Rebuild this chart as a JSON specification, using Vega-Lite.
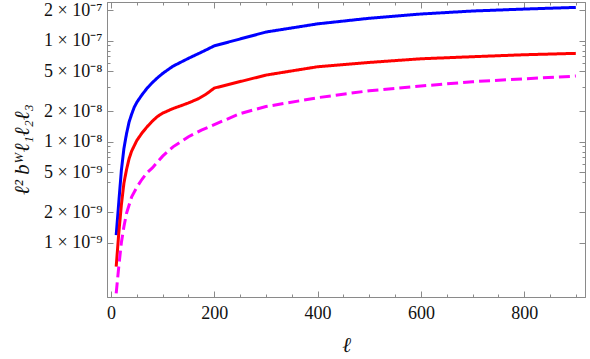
{
  "$schema": "https://vega.github.io/schema/vega-lite/v6.json",
  "width": 478,
  "height": 295,
  "autosize": {"type": "none"},
  "padding": {"left": 107, "top": 2, "right": 5, "bottom": 62},
  "background": "white",
  "config": {
    "font": "Liberation Serif",
    "view": {"stroke": "#8a8a8a", "strokeWidth": 1},
    "axis": {
      "grid": false,
      "domainColor": "#8a8a8a",
      "tickColor": "#8a8a8a",
      "labelFont": "Liberation Serif",
      "labelFontSize": 18,
      "labelColor": "#111",
      "titleFont": "Liberation Serif",
      "titleFontSize": 21,
      "titleFontStyle": "italic",
      "titleFontWeight": "normal",
      "titleColor": "#111"
    }
  },
  "data": {
    "values": [
      {"l": 10, "v": 1.19e-9, "s": "a"},
      {"l": 15, "v": 2.5e-9, "s": "a"},
      {"l": 20, "v": 5.2e-9, "s": "a"},
      {"l": 25, "v": 8.6e-9, "s": "a"},
      {"l": 30, "v": 1.2e-8, "s": "a"},
      {"l": 35, "v": 1.57e-8, "s": "a"},
      {"l": 40, "v": 1.88e-8, "s": "a"},
      {"l": 45, "v": 2.2e-8, "s": "a"},
      {"l": 50, "v": 2.46e-8, "s": "a"},
      {"l": 60, "v": 2.92e-8, "s": "a"},
      {"l": 70, "v": 3.4e-8, "s": "a"},
      {"l": 80, "v": 3.85e-8, "s": "a"},
      {"l": 90, "v": 4.3e-8, "s": "a"},
      {"l": 100, "v": 4.75e-8, "s": "a"},
      {"l": 120, "v": 5.6e-8, "s": "a"},
      {"l": 150, "v": 6.7e-8, "s": "a"},
      {"l": 175, "v": 7.7e-8, "s": "a"},
      {"l": 200, "v": 8.9e-8, "s": "a"},
      {"l": 300, "v": 1.22e-7, "s": "a"},
      {"l": 400, "v": 1.47e-7, "s": "a"},
      {"l": 500, "v": 1.67e-7, "s": "a"},
      {"l": 600, "v": 1.84e-7, "s": "a"},
      {"l": 700, "v": 1.97e-7, "s": "a"},
      {"l": 800, "v": 2.06e-7, "s": "a"},
      {"l": 900, "v": 2.14e-7, "s": "a"},
      {"l": 10, "v": 5.8e-10, "s": "b"},
      {"l": 15, "v": 1.24e-9, "s": "b"},
      {"l": 20, "v": 2.36e-9, "s": "b"},
      {"l": 25, "v": 3.9e-9, "s": "b"},
      {"l": 30, "v": 5.3e-9, "s": "b"},
      {"l": 35, "v": 6.8e-9, "s": "b"},
      {"l": 40, "v": 8.1e-9, "s": "b"},
      {"l": 50, "v": 1.03e-8, "s": "b"},
      {"l": 60, "v": 1.22e-8, "s": "b"},
      {"l": 70, "v": 1.41e-8, "s": "b"},
      {"l": 80, "v": 1.6e-8, "s": "b"},
      {"l": 90, "v": 1.78e-8, "s": "b"},
      {"l": 100, "v": 1.92e-8, "s": "b"},
      {"l": 120, "v": 2.13e-8, "s": "b"},
      {"l": 150, "v": 2.42e-8, "s": "b"},
      {"l": 170, "v": 2.68e-8, "s": "b"},
      {"l": 185, "v": 2.98e-8, "s": "b"},
      {"l": 200, "v": 3.4e-8, "s": "b"},
      {"l": 300, "v": 4.57e-8, "s": "b"},
      {"l": 400, "v": 5.53e-8, "s": "b"},
      {"l": 500, "v": 6.1e-8, "s": "b"},
      {"l": 600, "v": 6.63e-8, "s": "b"},
      {"l": 700, "v": 6.95e-8, "s": "b"},
      {"l": 800, "v": 7.27e-8, "s": "b"},
      {"l": 900, "v": 7.5e-8, "s": "b"},
      {"l": 10, "v": 3.15e-10, "s": "c"},
      {"l": 15, "v": 5.8e-10, "s": "c"},
      {"l": 20, "v": 1.0e-9, "s": "c"},
      {"l": 25, "v": 1.45e-9, "s": "c"},
      {"l": 30, "v": 1.95e-9, "s": "c"},
      {"l": 40, "v": 2.85e-9, "s": "c"},
      {"l": 50, "v": 3.55e-9, "s": "c"},
      {"l": 60, "v": 4.25e-9, "s": "c"},
      {"l": 70, "v": 4.95e-9, "s": "c"},
      {"l": 80, "v": 5.5e-9, "s": "c"},
      {"l": 90, "v": 6.3e-9, "s": "c"},
      {"l": 100, "v": 7.2e-9, "s": "c"},
      {"l": 120, "v": 8.9e-9, "s": "c"},
      {"l": 150, "v": 1.12e-8, "s": "c"},
      {"l": 175, "v": 1.3e-8, "s": "c"},
      {"l": 200, "v": 1.48e-8, "s": "c"},
      {"l": 250, "v": 1.9e-8, "s": "c"},
      {"l": 300, "v": 2.23e-8, "s": "c"},
      {"l": 400, "v": 2.73e-8, "s": "c"},
      {"l": 500, "v": 3.2e-8, "s": "c"},
      {"l": 600, "v": 3.56e-8, "s": "c"},
      {"l": 700, "v": 3.93e-8, "s": "c"},
      {"l": 800, "v": 4.2e-8, "s": "c"},
      {"l": 900, "v": 4.47e-8, "s": "c"}
    ]
  },
  "layer": [
    {
      "mark": {"type": "line", "strokeWidth": 3, "clip": true},
      "encoding": {
        "x": {
          "field": "l",
          "type": "quantitative",
          "scale": {"domain": [-7.8, 917.8], "nice": false, "zero": false},
          "axis": {
            "orient": "bottom",
            "title": "ℓ",
            "values": [0, 50, 100, 150, 200, 250, 300, 350, 400, 450, 500, 550, 600, 650, 700, 750, 800, 850, 900],
            "labelExpr": "datum.value % 200 == 0 ? datum.label : ''",
            "tickSize": {"condition": {"test": "datum.value % 200 == 0", "value": -6}, "value": -3},
            "labelPadding": 13,
            "labelFlush": false,
            "labelOverlap": false,
            "titleY": 48,
            "titleBaseline": "middle"
          }
        },
        "y": {
          "field": "v",
          "type": "quantitative",
          "scale": {"type": "log", "domain": [2.9e-10, 2.42e-7], "nice": false},
          "axis": {
            "orient": "left",
            "title": "ℓ² bᵂℓ₁ℓ₂ℓ₃",
            "values": [1e-9, 2e-9, 4e-9, 5e-9, 6e-9, 7e-9, 8e-9, 9e-9, 1e-8, 2e-8, 3.5e-8, 5e-8, 6e-8, 7e-8, 8e-8, 9e-8, 1e-7, 2e-7],
            "labelExpr": "(round(datum.value / pow(10, floor(log(datum.value)/LN10 + 0.001))) == 1 || round(datum.value / pow(10, floor(log(datum.value)/LN10 + 0.001))) == 2 || round(datum.value / pow(10, floor(log(datum.value)/LN10 + 0.001))) == 5) ? round(datum.value / pow(10, floor(log(datum.value)/LN10 + 0.001))) + ' × 10' + (floor(log(datum.value)/LN10 + 0.001) == -7 ? '⁻⁷' : floor(log(datum.value)/LN10 + 0.001) == -8 ? '⁻⁸' : '⁻⁹') : ''",
            "tickSize": {"condition": {"test": "indexof([1e-9,2e-9,5e-9,1e-8,2e-8,5e-8,1e-7,2e-7], datum.value) >= 0", "value": -6}, "value": -3},
            "labelPadding": 11,
            "labelFlush": false,
            "labelOverlap": false,
            "titleX": -85,
            "titleY": 147,
            "titleAngle": -90,
            "titleAlign": "center",
            "titleBaseline": "middle"
          }
        },
        "color": {
          "field": "s",
          "type": "nominal",
          "scale": {"domain": ["a", "b", "c"], "range": ["#0000ff", "#ff0000", "#ff00ff"]},
          "legend": null
        },
        "strokeDash": {
          "field": "s",
          "type": "nominal",
          "scale": {"domain": ["a", "b", "c"], "range": [[1, 0], [1, 0], [11, 5]]},
          "legend": null
        }
      }
    },
    {
      "mark": {"type": "point", "opacity": 0},
      "encoding": {
        "x": {
          "field": "l",
          "type": "quantitative",
          "axis": {
            "orient": "top",
            "title": null,
            "labels": false,
            "values": [0, 50, 100, 150, 200, 250, 300, 350, 400, 450, 500, 550, 600, 650, 700, 750, 800, 850, 900],
            "tickSize": {"condition": {"test": "datum.value % 200 == 0", "value": -6}, "value": -3}
          }
        },
        "y": {
          "field": "v",
          "type": "quantitative",
          "axis": {
            "orient": "right",
            "title": null,
            "labels": false,
            "values": [1e-9, 2e-9, 4e-9, 5e-9, 6e-9, 7e-9, 8e-9, 9e-9, 1e-8, 2e-8, 3.5e-8, 5e-8, 6e-8, 7e-8, 8e-8, 9e-8, 1e-7, 2e-7],
            "tickSize": {"condition": {"test": "indexof([1e-9,2e-9,5e-9,1e-8,2e-8,5e-8,1e-7,2e-7], datum.value) >= 0", "value": -6}, "value": -3}
          }
        }
      }
    }
  ],
  "resolve": {"axis": {"x": "independent", "y": "independent"}}
}
